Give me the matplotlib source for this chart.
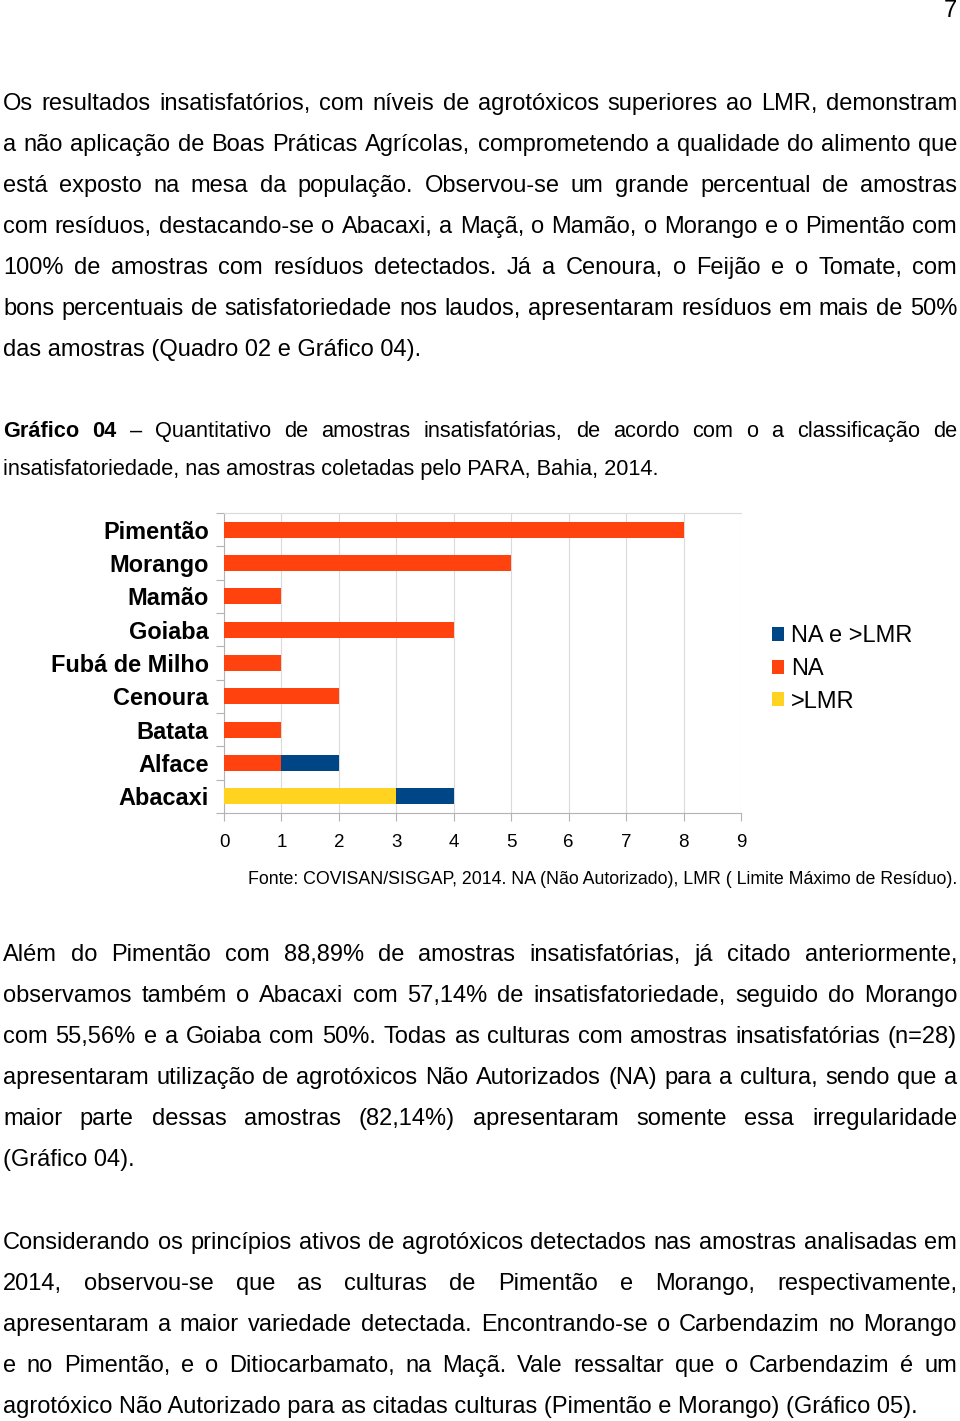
import matplotlib
matplotlib.use("Agg")
import matplotlib.pyplot as plt
import numpy as np

W, H = 960, 1421

# chart data (bottom to top)
categories = ["Abacaxi", "Alface", "Batata", "Cenoura", "Fubá de Milho",
              "Goiaba", "Mamão", "Morango", "Pimentão"]
lmr = [3, 0, 0, 0, 0, 0, 0, 0, 0]        # >LMR
na = [0, 1, 1, 2, 1, 4, 1, 5, 8]         # NA
na_lmr = [1, 1, 0, 0, 0, 0, 0, 0, 0]     # NA e >LMR
xticks = list(range(10))

para1 = [
    "Os resultados insatisfatórios, com níveis de agrotóxicos superiores ao LMR, demonstram",
    "a não aplicação de Boas Práticas Agrícolas, comprometendo a qualidade do alimento que",
    "está exposto na mesa da população. Observou-se um grande percentual de amostras",
    "com resíduos, destacando-se o Abacaxi, a Maçã, o Mamão, o Morango e o Pimentão com",
    "100% de amostras com resíduos detectados. Já a Cenoura, o Feijão e o Tomate, com",
    "bons percentuais de satisfatoriedade nos laudos, apresentaram resíduos em mais de 50%",
    "das amostras (Quadro 02 e Gráfico 04).",
]
caption = [
    "Gráfico 04 – Quantitativo de amostras insatisfatórias, de acordo com o a classificação de",
    "insatisfatoriedade, nas amostras coletadas pelo PARA, Bahia, 2014.",
]
source = "Fonte: COVISAN/SISGAP, 2014. NA (Não Autorizado), LMR ( Limite Máximo de Resíduo)."
para2 = [
    "Além do Pimentão com 88,89% de amostras insatisfatórias, já citado anteriormente,",
    "observamos também o Abacaxi com 57,14% de insatisfatoriedade, seguido do Morango",
    "com 55,56% e a Goiaba com 50%. Todas as culturas com amostras insatisfatórias (n=28)",
    "apresentaram utilização de agrotóxicos Não Autorizados (NA) para a cultura, sendo que a",
    "maior parte dessas amostras (82,14%) apresentaram somente essa irregularidade",
    "(Gráfico 04).",
]
para3 = [
    "Considerando os princípios ativos de agrotóxicos detectados nas amostras analisadas em",
    "2014, observou-se que as culturas de Pimentão e Morango, respectivamente,",
    "apresentaram a maior variedade detectada. Encontrando-se o Carbendazim no Morango",
    "e no Pimentão, e o Ditiocarbamato, na Maçã. Vale ressaltar que o Carbendazim é um",
    "agrotóxico Não Autorizado para as citadas culturas (Pimentão e Morango) (Gráfico 05).",
]

BODY = "Liberation Sans"

fig = plt.figure(figsize=(W / 100, H / 100), dpi=100)
fig.patch.set_facecolor("white")
renderer = fig.canvas.get_renderer()


def fx(x):
    return x / W


def fy(y):
    return 1 - y / H


def put_line(text, base, justify, size=17, bold_words=0, x0=3, x1=957):
    words = text.split(" ")
    if not justify:
        return fig.text(fx(x0), fy(base), text, fontsize=size, family=BODY, va="baseline")
    objs = []
    for i, w in enumerate(words):
        wt = "bold" if i < bold_words else "normal"
        objs.append(fig.text(0, fy(base), w, fontsize=size, family=BODY,
                             weight=wt, va="baseline"))
    widths = [o.get_window_extent(renderer).width for o in objs]
    gap = (x1 - x0 - sum(widths)) / (len(words) - 1)
    x = x0
    for o, wd in zip(objs, widths):
        o.set_x(fx(x))
        x += wd + gap


def paragraph(lines, first_base, step=41, **kw):
    for i, ln in enumerate(lines):
        put_line(ln, first_base + i * step, justify=i < len(lines) - 1, **kw)


fig.text(fx(957), fy(17), "7", fontsize=17, family=BODY, ha="right", va="baseline")

paragraph(para1, 110)

# caption is set in a narrow face in the page; shrink so the short line spans ~657 px
probe = fig.text(0, 0, caption[1], fontsize=17, family=BODY)
cap_size = min(17, 17 * 657 / probe.get_window_extent(renderer).width)
probe.remove()
put_line(caption[0], 437, True, size=cap_size, bold_words=2)
put_line(caption[1], 475, False, size=cap_size)

fig.text(fx(957), fy(884), source, fontsize=12.8, family=BODY, ha="right", va="baseline")
paragraph(para2, 961)
paragraph(para3, 1249)

# chart
ax = fig.add_axes([fx(224), fy(813), (741 - 224) / W, (813 - 513) / H])
y = np.arange(len(categories))
lmr_a, na_a, nal_a = np.array(lmr), np.array(na), np.array(na_lmr)
c_blue, c_orange, c_yellow = "#004586", "#ff420e", "#ffd320"
h = 0.48
b3 = ax.barh(y, lmr_a, height=h, color=c_yellow, label=">LMR", zorder=3)
b2 = ax.barh(y, na_a, left=lmr_a, height=h, color=c_orange, label="NA", zorder=3)
b1 = ax.barh(y, nal_a, left=lmr_a + na_a, height=h, color=c_blue, label="NA e >LMR", zorder=3)

ax.set_xlim(0, 9)
ax.set_ylim(-0.5, len(categories) - 0.5)
ax.set_xticks(xticks)
ax.set_xticklabels([str(t) for t in xticks], fontsize=13.5, family=BODY)
ax.set_yticks(y)
ax.set_yticklabels(categories, fontsize=16.9, family=BODY, weight="bold")
ax.set_yticks(np.arange(-0.5, len(categories)), minor=True)
ax.tick_params(axis="y", which="major", length=0, pad=11)
ax.tick_params(axis="y", which="minor", length=6, color="#b3b3b3", width=0.8)
ax.tick_params(axis="x", which="major", length=6, color="#b3b3b3", width=0.8, pad=9)
ax.grid(axis="x", color="#dadada", lw=0.8, zorder=0)
for s in ["left", "bottom", "top"]:
    ax.spines[s].set_color("#b3b3b3")
    ax.spines[s].set_linewidth(0.8)
ax.spines["right"].set_visible(False)
ax.spines["top"].set_color("#dadada")

fig.legend(handles=[b1, b2, b3], labels=["NA e >LMR", "NA", ">LMR"],
           loc="center left", bbox_to_anchor=(fx(772), fy(669)), frameon=False,
           prop={"family": BODY, "size": 17}, handlelength=0.52, handleheight=0.52,
           handletextpad=0.3, labelspacing=0.45, borderpad=0, borderaxespad=0)

fig.savefig("out.png", dpi=100, facecolor="white")
